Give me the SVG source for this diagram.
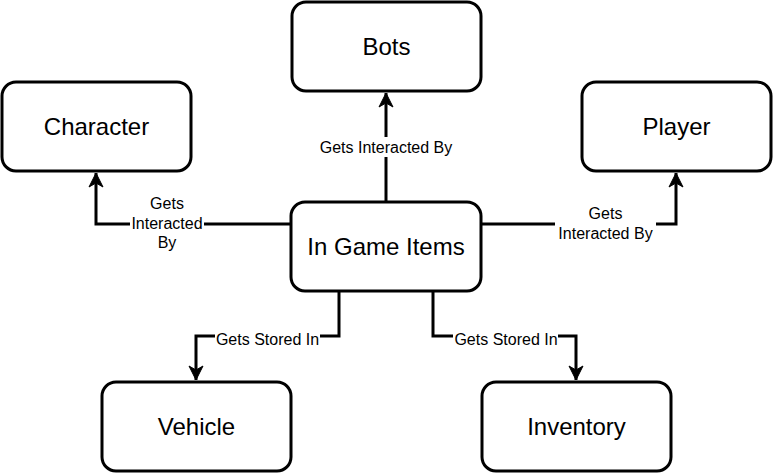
<svg xmlns="http://www.w3.org/2000/svg" width="774" height="473" viewBox="0 0 774 473">
<style>
.node rect{fill:#fff;stroke:#000;stroke-width:3}
.node text{font-family:"Liberation Sans",Arial,sans-serif;font-size:24px;text-anchor:middle;fill:#000}
.edge{fill:none;stroke:#000;stroke-width:3}
.lbl rect{fill:#fff}
.lbl text{font-family:"Liberation Sans",Arial,sans-serif;font-size:16px;text-anchor:middle;fill:#000}
</style>
<defs>
<marker id="ah" markerUnits="userSpaceOnUse" markerWidth="16" markerHeight="16" viewBox="0 0 16 16" refX="15" refY="8" orient="auto">
<path d="M1,1 L15,8 L1,15 L5,8 Z" fill="#000" stroke="#000" stroke-width="1"/>
</marker>
</defs>
<rect width="774" height="473" fill="#fff"/>
<g id="connectors">
<path class="edge" d="M386,202 V93" marker-end="url(#ah)"/>
<path class="edge" d="M291,224 H96 V173" marker-end="url(#ah)"/>
<path class="edge" d="M481,224 H676 V173" marker-end="url(#ah)"/>
<path class="edge" d="M339,291 V336 H196 V380" marker-end="url(#ah)"/>
<path class="edge" d="M433,291 V336 H576 V380" marker-end="url(#ah)"/>
<g class="lbl">
<rect x="318" y="137" width="137" height="20"/>
<text x="386" y="153">Gets Interacted By</text>
<rect x="130" y="193" width="74" height="58"/>
<text x="167" y="209">Gets</text>
<text x="167" y="229">Interacted</text>
<text x="167" y="248">By</text>
<rect x="555" y="203" width="101" height="40"/>
<text x="605.5" y="219">Gets</text>
<text x="605.5" y="239">Interacted By</text>
<rect x="215" y="329" width="105" height="20"/>
<text x="267.5" y="345">Gets Stored In</text>
<rect x="453" y="329" width="105" height="20"/>
<text x="506" y="345">Gets Stored In</text>
</g>
</g>
<g id="bots" class="node"><rect x="292" y="2" width="189" height="89" rx="14"/><text x="386.5" y="55">Bots</text></g>
<g id="character" class="node"><rect x="2" y="82" width="189" height="89" rx="14"/><text x="96.5" y="135">Character</text></g>
<g id="player" class="node"><rect x="582" y="82" width="189" height="89" rx="14"/><text x="676.5" y="135">Player</text></g>
<g id="in-game-items" class="node"><rect x="291" y="202" width="190" height="89" rx="14"/><text x="386" y="255">In Game Items</text></g>
<g id="vehicle" class="node"><rect x="102" y="382" width="189" height="89" rx="14"/><text x="196.5" y="435">Vehicle</text></g>
<g id="inventory" class="node"><rect x="482" y="382" width="189" height="89" rx="14"/><text x="576.5" y="435">Inventory</text></g>
</svg>
